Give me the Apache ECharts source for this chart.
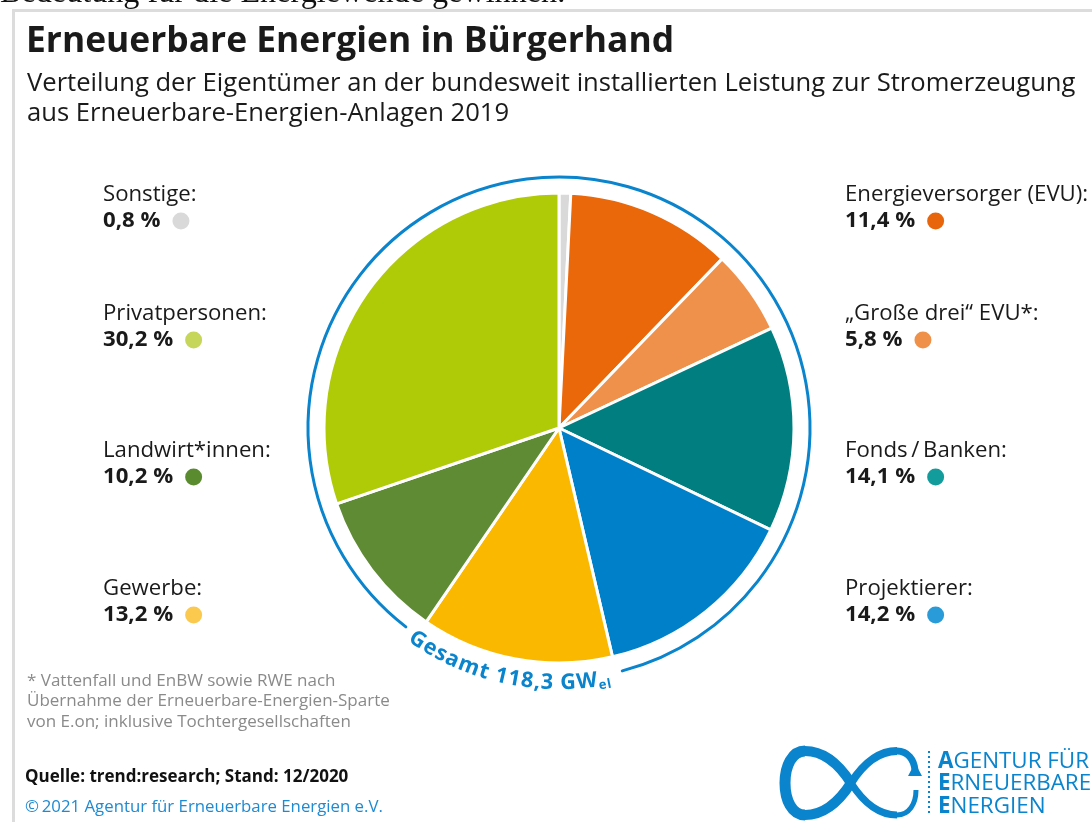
<!DOCTYPE html>
<html>
<head>
<meta charset="utf-8">
<script src="https://cdn.jsdelivr.net/npm/echarts@6/dist/echarts.min.js"></script>
<style>
  html, body { margin: 0; padding: 0; background: #fff; }
  #chart { width: 1092px; height: 822px; }
</style>
</head>
<body>
<div id="chart"></div>
<script>
/** owners of installed renewable capacity, clockwise from 12 o'clock */
const names = [
  "Sonstige",
  "Energieversorger (EVU)",
  "\u201eGro\u00dfe drei\u201c EVU*",
  "Fonds\u2009/\u2009Banken",
  "Projektierer",
  "Gewerbe",
  "Landwirt*innen",
  "Privatpersonen",
];
const values = [0.8, 11.4, 5.8, 14.1, 14.2, 13.2, 10.2, 30.2];
const sliceColors = ["#d9d9d9", "#ea670a", "#f0914b", "#017f80", "#0080c9", "#fab900", "#5f8b34", "#afca06"];
const dotColors = ["#d9d9d9", "#e8650c", "#f0914a", "#139c9c", "#2a9bd9", "#fcc94f", "#5a8c2f", "#c5d65a"];

/** label anchor per slice (left / right columns) */
const labelPos = [
  [103, 208], [845, 208], [845, 327], [845, 464],
  [845, 602], [103, 602], [103, 464], [103, 327],
];

const title = "Erneuerbare Energien in B\u00fcrgerhand";
const subtitle = [
  "Verteilung der Eigent\u00fcmer an der bundesweit installierten Leistung zur Stromerzeugung",
  "aus Erneuerbare-Energien-Anlagen 2019",
];
const total = "Gesamt 118,3 GW";
const totalSub = "el";
const footnote = [
  "* Vattenfall und EnBW sowie RWE nach",
  "\u00dcbernahme der Erneuerbare-Energien-Sparte",
  "von E.on; inklusive Tochtergesellschaften",
];
const source = "Quelle: trend:research; Stand: 12/2020";
const copyright = "\u00a9\u20092021 Agentur f\u00fcr Erneuerbare Energien e.V.";

const font = "'Open Sans'";
const blue = "#0a84cc";
const cx = 559, cy = 428;

/** german number format */
const fmt = (v) => v.toFixed(1).replace(".", ",") + " %";

/** font size so that text spans the given width */
const ctx = document.createElement("canvas").getContext("2d");
const fit = (text, weight, family, width) => {
  ctx.font = weight + " 100px " + family;
  return Math.round((100 * width / ctx.measureText(text).width) * 10) / 10;
};

const titleSize = fit(title, "bold", font, 648);
const subSize = fit(subtitle[0], "normal", font, 1049);
const labelSize = fit("Energieversorger (EVU):", "normal", font, 243);
const noteSize = fit(footnote[1], "normal", font, 363);
const srcSize = fit(source, "bold", font, 323);
const copySize = fit(copyright, "normal", font, 358);
const topSize = fit("Bedeutung f\u00fcr die Energiewende gewinnen.", "normal", "'Liberation Serif'", 565);
const logoSize = fit("AGENTUR F\u00dcR", "normal", font, 150);

/** rich styles, one dot per slice */
const rich = {
  n: { fontFamily: font, fontSize: labelSize, color: "#1a1a1a", lineHeight: 26, verticalAlign: "middle" },
  v: { fontFamily: font, fontSize: labelSize, fontWeight: "bold", color: "#1a1a1a", lineHeight: 26, verticalAlign: "middle" },
  s: { width: 12 },
};
dotColors.forEach((c, i) => {
  rich["d" + i] = { width: 17, height: 17, borderRadius: 8.5, backgroundColor: c, verticalAlign: "middle" };
});

/** curved "Gesamt" text along the ring gap */
const arcGraphics = [];
(() => {
  const R = 255;
  const mainFont = "bold 21.5px " + font;
  const subFont = "bold 13px " + font;
  const spacing = 0.8;
  const parts = [];
  ctx.font = mainFont;
  for (const ch of total) parts.push({ ch, w: ctx.measureText(ch).width + spacing, f: mainFont, dr: 0 });
  ctx.font = subFont;
  for (const ch of totalSub) parts.push({ ch, w: ctx.measureText(ch).width + 0.5, f: subFont, dr: 6 });
  const W = parts.reduce((a, p) => a + p.w, 0);
  const mid = (102 * Math.PI) / 180;
  let off = 0;
  const start = mid + W / 2 / R;
  for (const p of parts) {
    const th = start - (off + p.w / 2) / R;
    off += p.w;
    const r = R + p.dr;
    arcGraphics.push({
      type: "text",
      x: cx + r * Math.cos(th),
      y: cy + r * Math.sin(th),
      rotation: Math.PI / 2 - th,
      style: { text: p.ch, font: p.f, fill: blue, textAlign: "center", textVerticalAlign: "middle" },
    });
  }
})();

/** logo infinity sign as bezier pieces */
const bez = (x1, y1, c1x, c1y, c2x, c2y, x2, y2, w) => ({
  type: "bezierCurve",
  shape: { x1, y1, cpx1: c1x, cpy1: c1y, cpx2: c2x, cpy2: c2y, x2, y2 },
  style: { stroke: blue, lineWidth: w, fill: null },
});

const txt = (x, y, text, size, weight, color) => ({
  type: "text", x, y,
  style: { text, font: weight + " " + size + "px " + font, fill: color, textVerticalAlign: "middle" },
});

const chart = echarts.init(document.getElementById("chart"));

const option = {
  animation: false,
  series: [
    {
      type: "pie",
      center: [cx, cy],
      radius: 235,
      startAngle: 90,
      clockwise: true,
      silent: true,
      itemStyle: { borderColor: "#fff", borderWidth: 3 },
      label: {
        show: true,
        position: "outside",
        formatter: (p) => "{n|" + p.name + ":}\n{v|" + fmt(p.value) + "}{s| }{d" + p.dataIndex + "| }",
        rich,
      },
      labelLine: { show: false },
      labelLayout: (p) => ({
        x: labelPos[p.dataIndex][0],
        y: labelPos[p.dataIndex][1],
        align: "left",
        verticalAlign: "middle",
      }),
      data: names.map((name, i) => ({ name, value: values[i], itemStyle: { color: sliceColors[i] } })),
    },
  ],
  graphic: [
    /** cut-off line of the surrounding page */
    {
      type: "text", x: 0, y: 10,
      style: { text: "Bedeutung f\u00fcr die Energiewende gewinnen.", font: topSize + "px 'Liberation Serif'", fill: "#111", textVerticalAlign: "bottom" },
    },
    /** frame */
    { type: "rect", shape: { x: 12, y: 9, width: 1080, height: 3 }, style: { fill: "#dcdcdc" } },
    { type: "rect", shape: { x: 12, y: 9, width: 3, height: 813 }, style: { fill: "#dcdcdc" } },
    /** titles */
    txt(26, 42, title, titleSize, "bold", "#1a1a1a"),
    txt(27, 84, subtitle[0], subSize, "normal", "#1a1a1a"),
    txt(27, 114, subtitle[1], subSize, "normal", "#1a1a1a"),
    /** outer ring with gap for the total */
    {
      type: "arc",
      shape: { cx, cy, r: 251, startAngle: (127.6 * Math.PI) / 180, endAngle: (75.4 * Math.PI) / 180, clockwise: true },
      style: { stroke: blue, lineWidth: 3, fill: null, lineCap: "round" },
      silent: true,
    },
    ...arcGraphics,
    /** footnote and source */
    ...footnote.map((t, i) => txt(27, 681 + i * 20.5, t, noteSize, "normal", "#8a8a8a")),
    txt(25, 777, source, srcSize, "bold", "#111"),
    txt(25, 807, copyright, copySize, "normal", "#1e8ad2"),
    /** logo */
    bez(851, 783, 835, 758, 818, 751, 805, 751, 10),
    bez(805, 751, 792, 751, 785, 766, 785, 783, 11),
    bez(785, 783, 785, 800, 792, 815, 805, 815, 11),
    bez(805, 815, 818, 815, 835, 808, 851, 783, 10),
    bez(851, 783, 867, 758, 884, 751, 897, 751, 8),
    bez(897, 751, 908, 751, 914, 760, 915, 770, 7),
    bez(851, 783, 867, 808, 884, 815, 897, 815, 7),
    bez(897, 815, 909, 815, 916, 804, 916, 790, 5),
    { type: "polygon", shape: { points: [[908, 776], [922, 776], [915, 763]] }, style: { fill: blue } },
    {
      type: "line", shape: { x1: 929, y1: 751, x2: 929, y2: 816 },
      style: { stroke: blue, lineWidth: 2, lineDash: [2, 3] },
    },
    {
      type: "text", x: 938, y: 750,
      style: {
        text: "{b|A}{r|GENTUR F\u00dcR}\n{b|E}{r|RNEUERBARE}\n{b|E}{r|NERGIEN}",
        rich: {
          b: { fontFamily: font, fontWeight: "bold", fontSize: logoSize, fill: blue, lineHeight: 22.5 },
          r: { fontFamily: font, fontSize: logoSize, fill: blue, lineHeight: 22.5 },
        },
      },
    },
  ],
};

chart.setOption(option);
</script>
</body>
</html>
